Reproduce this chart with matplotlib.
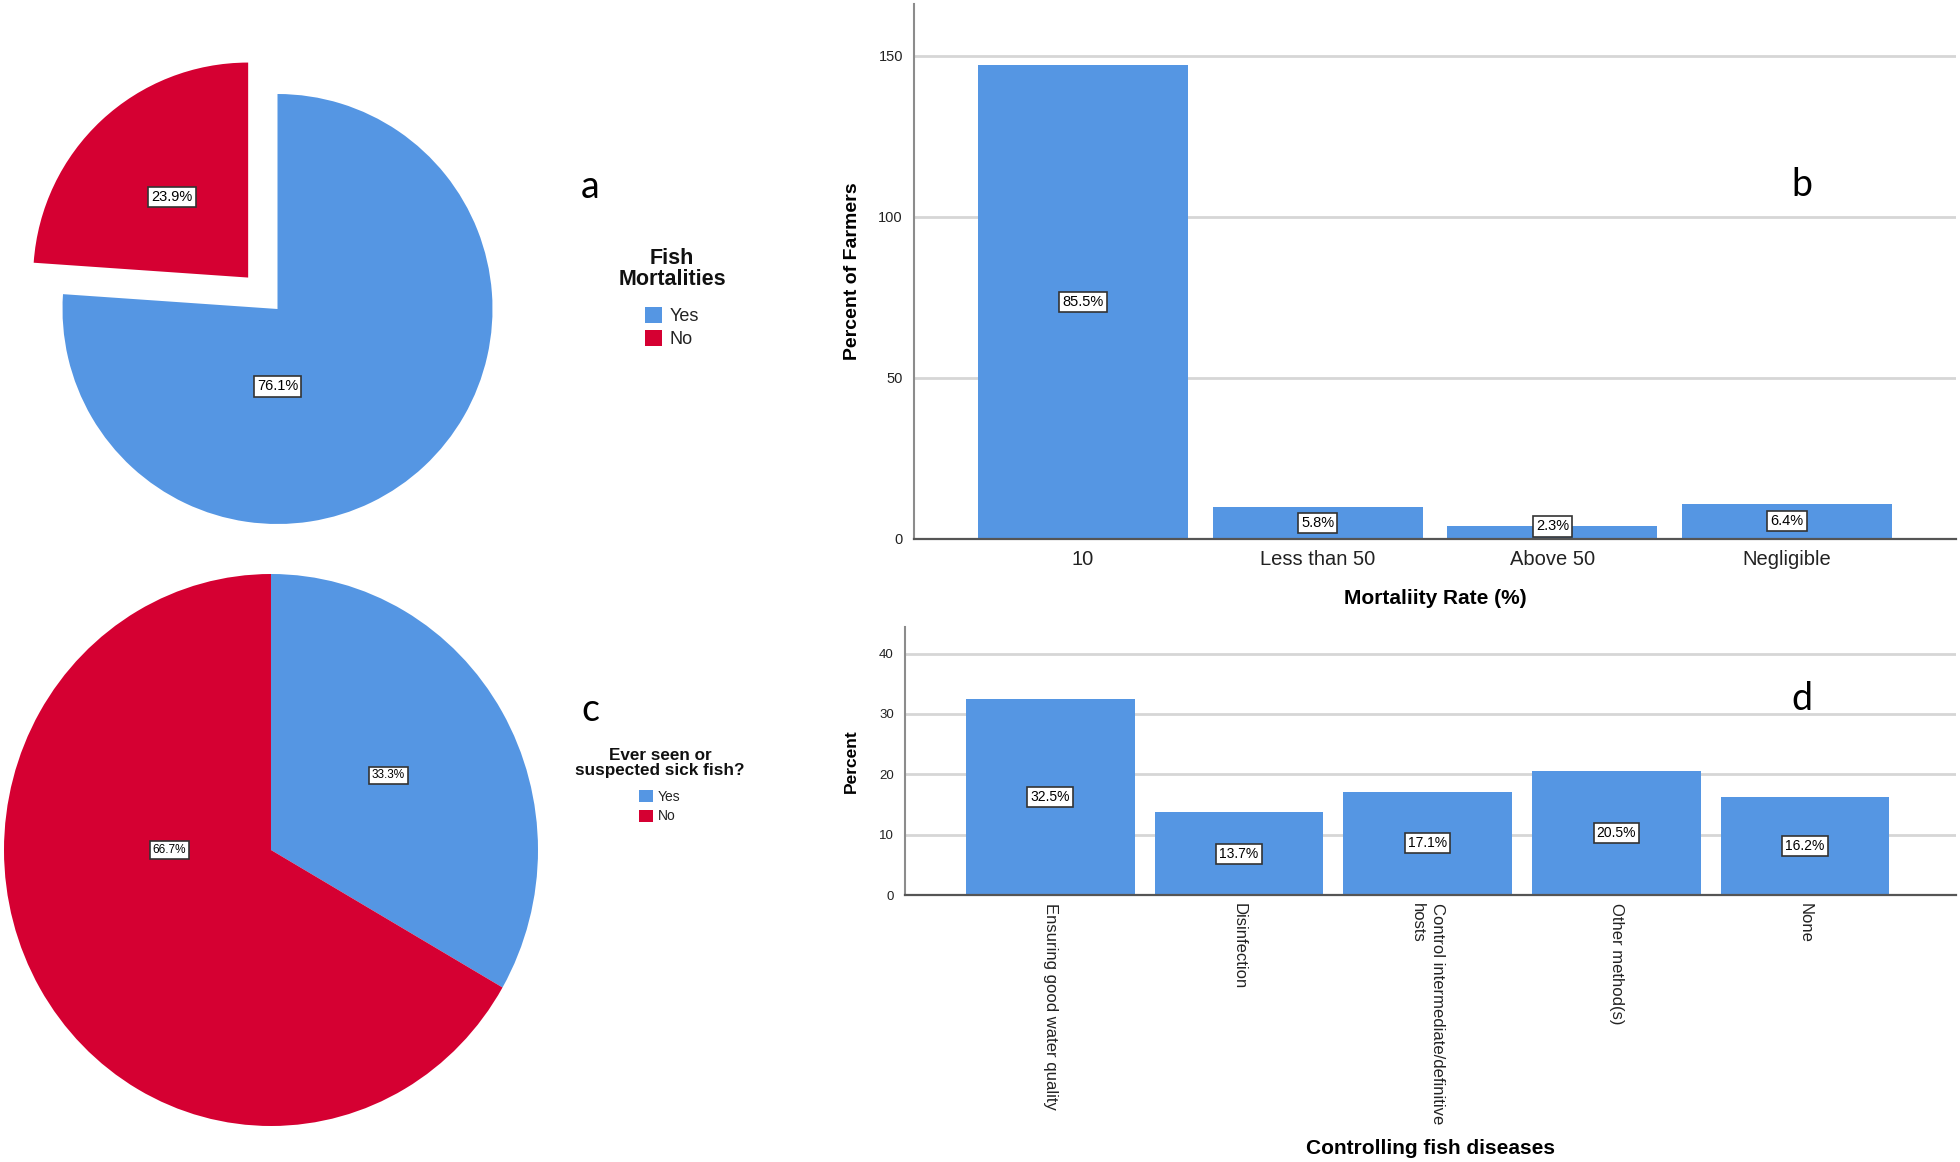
import numpy as np
import matplotlib
matplotlib.use('Agg')
import matplotlib.pyplot as plt
from matplotlib.patches import Patch

plt.rcParams['font.family'] = ['Liberation Sans', 'DejaVu Sans']

BLUE = '#5596E3'
RED = '#D50032'

#### data ####################################################################
# a: fish mortalities
mort_labels = ['Yes', 'No']
mort_pct = [76.1, 23.9]

# b: mortality rate (bar heights are farmer counts, labels are percents)
rate_cats = ['10', 'Less than 50', 'Above 50', 'Negligible']
rate_counts = [147, 10, 4, 11]
rate_pct = [85.5, 5.8, 2.3, 6.4]

# c: ever seen or suspected sick fish
sick_labels = ['Yes', 'No']
sick_pct = [33.3, 66.7]

# d: controlling fish diseases
ctrl_cats = ['Ensuring good water quality', 'Disinfection',
             'Control intermediate/definitive\nhosts', 'Other method(s)', 'None']
ctrl_pct = [32.5, 13.7, 17.1, 20.5, 16.2]
##############################################################################

W, H = 1960, 1162
fig = plt.figure(figsize=(W / 100, H / 100), dpi=100)


def px_box(left, top, right, bottom):
    # axes rectangle from pixel edges, y measured from the top
    return fig.add_axes([left / W, 1 - bottom / H, (right - left) / W, (bottom - top) / H])


box = dict(boxstyle='square,pad=0.22', fc='white', ec='#333333', lw=1.2)


def letter(x, y, s):
    fig.text(x / W, 1 - y / H, s, ha='center', va='center', fontsize=27,
             family=['Lato', 'DejaVu Sans'])


def legend(handles, labels, title, cx, title_y, items_y, fs, tfs, tls, hl, ls):
    # title drawn on its own so the gap to the entries can be set freely
    fig.text(cx / W, 1 - title_y / H, title, ha='center', va='center',
             fontsize=tfs, fontweight='bold', linespacing=tls, color='#111111')
    leg = fig.legend(handles, labels, loc='center',
                     bbox_to_anchor=(cx / W, 1 - items_y / H), frameon=False,
                     fontsize=fs, handlelength=hl, handleheight=hl, handletextpad=0.4,
                     labelspacing=ls, borderpad=0)
    for t in leg.get_texts():
        t.set_color('#222222')
    return leg


#### a: exploded pie ##########################################################
r_a = 215
axa = px_box(277.5 - 280, 309 - 280, 277.5 + 280, 309 + 280)
axa.pie(mort_pct, colors=[BLUE, RED], startangle=90, counterclock=False,
        explode=[0, 0.2], wedgeprops=dict(linewidth=0))
axa.set_aspect('auto')
axa.set_xlim(-280 / r_a, 280 / r_a)
axa.set_ylim(-280 / r_a, 280 / r_a)
for (x, y), p in zip([(0, -0.36), (-0.49, 0.52)], mort_pct):
    axa.text(x, y, f'{p}%', ha='center', va='center', fontsize=10.5, bbox=box)
legend([Patch(fc=BLUE), Patch(fc=RED)], mort_labels, 'Fish\nMortalities',
       672, 269, 327.5, 13, 15.5, 1.05, 0.95, 0.27)
letter(590, 186.5, 'a')

#### c: pie ###################################################################
rx_c, ry_c = 267, 276
axc = px_box(271 - 300, 850 - 300, 271 + 300, 850 + 300)
axc.pie(sick_pct, colors=[BLUE, RED], startangle=90, counterclock=False,
        wedgeprops=dict(linewidth=0))
axc.set_aspect('auto')
axc.set_xlim(-300 / rx_c, 300 / rx_c)
axc.set_ylim(-300 / ry_c, 300 / ry_c)
for (x, y), p in zip([(0.44, 0.27), (-0.38, 0.0)], sick_pct):
    axc.text(x, y, f'{p}%', ha='center', va='center', fontsize=8.5, bbox=box)
legend([Patch(fc=BLUE), Patch(fc=RED)], sick_labels, 'Ever seen or\nsuspected sick fish?',
       660, 762.5, 806.5, 10, 12.3, 1.0, 0.95, 0.42)
letter(590, 710, 'c')


def style_bar_axes(ax):
    for s in ['top', 'right']:
        ax.spines[s].set_visible(False)
    ax.spines['left'].set_color('#8C8C8C')
    ax.spines['left'].set_linewidth(1.5)
    ax.spines['bottom'].set_color('#555555')
    ax.spines['bottom'].set_linewidth(1.6)
    ax.yaxis.grid(True, color='#D6D6D6', lw=2)
    ax.set_axisbelow(True)
    ax.tick_params(axis='both', length=0, colors='#222222')


#### b: mortality rate bars ###################################################
axb = px_box(914, 4, 1956, 539)
xb = np.arange(len(rate_cats))
axb.bar(xb, rate_counts, width=0.894, color=BLUE, zorder=2)
axb.set_xlim(-0.72, len(rate_cats) - 1 + 0.72)
axb.set_ylim(0, 166)
axb.set_yticks([0, 50, 100, 150])
axb.set_xticks(xb)
axb.set_xticklabels(rate_cats, fontsize=14.5)
style_bar_axes(axb)
axb.tick_params(axis='y', labelsize=10.5, pad=8)
axb.tick_params(axis='x', pad=8)
for x, c, p in zip(xb, rate_counts, rate_pct):
    axb.text(x, max(c / 2, 3.9), f'{p}%', ha='center', va='center', fontsize=10.5,
             bbox=box, zorder=3)
axb.set_xlabel('Mortaliity Rate (%)', fontsize=15, fontweight='bold')
axb.xaxis.set_label_coords(0.5, -0.093)
axb.set_ylabel('Percent of Farmers', fontsize=14, fontweight='bold')
axb.yaxis.set_label_coords(-0.051, 0.5)
letter(1802, 185, 'b')

#### d: controlling fish diseases bars ########################################
axd = px_box(905, 627, 1956, 895)
xd = np.arange(len(ctrl_cats))
axd.bar(xd, ctrl_pct, width=0.894, color=BLUE, zorder=2)
axd.set_xlim(-0.77, len(ctrl_cats) - 1 + 0.8)
axd.set_ylim(0, 44.4)
axd.set_yticks([0, 10, 20, 30, 40])
axd.set_xticks(xd)
axd.set_xticklabels(ctrl_cats, fontsize=12, rotation=-90, va='top', ha='center',
                    multialignment='left', linespacing=1.45)
style_bar_axes(axd)
axd.tick_params(axis='y', labelsize=9.5, pad=8)
axd.tick_params(axis='x', pad=6)
for x, p in zip(xd, ctrl_pct):
    axd.text(x, p / 2, f'{p}%', ha='center', va='center', fontsize=10,
             bbox=box, zorder=3)
axd.set_xlabel('Controlling fish diseases', fontsize=15, fontweight='bold')
axd.xaxis.set_label_coords(0.5, -0.912)
axd.set_ylabel('Percent', fontsize=12.5, fontweight='bold')
axd.yaxis.set_label_coords(-0.044, 0.5)
letter(1802, 698.5, 'd')

fig.savefig('out.png', dpi=100)
